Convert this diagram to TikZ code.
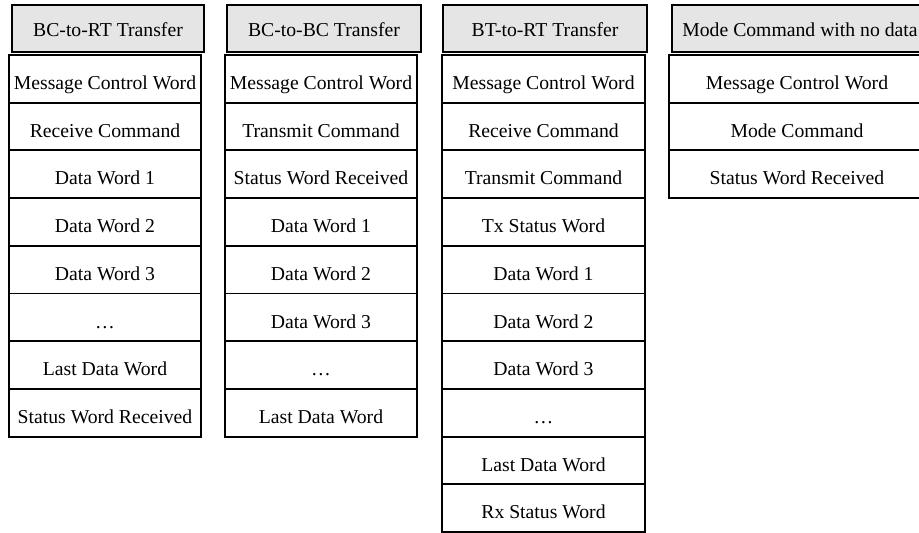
\documentclass[tikz,border=0pt]{standalone}
\usepackage{fontspec}
\setmainfont{Liberation Serif}
\begin{document}
\begin{tikzpicture}[x=1pt,y=-1pt,
  cell/.style={draw=black, line width=1.9pt, fill=white, minimum height=47.7pt, inner sep=0pt, text height=22pt, text depth=0.6pt, font=\fontsize{19.7}{22}\selectfont},
  head/.style={draw=black, line width=1.9pt, fill=gray!20, minimum height=47pt, inner sep=0pt, text height=16.4pt, text depth=0pt, font=\fontsize{19.7}{22}\selectfont}]
\useasboundingbox (0,0) rectangle (919,533);
\clip (0,0) rectangle (919,533);
% column 1
\node[head, minimum width=192pt] (h1) at (108,28.5) {BC-to-RT Transfer};
\foreach \t [count=\i] in {Message Control Word, Receive Command, Data Word 1, Data Word 2, Data Word 3, …, Last Data Word, Status Word Received}
  \node[cell, minimum width=192pt] (a\i) at (105,{78.85+47.7*(\i-1)}) {\t};
% column 2
\node[head, minimum width=194pt] (h2) at (324,28.5) {BC-to-BC Transfer};
\foreach \t [count=\i] in {Message Control Word, Transmit Command, Status Word Received, Data Word 1, Data Word 2, Data Word 3, …, Last Data Word}
  \node[cell, minimum width=192pt] (b\i) at (321,{78.85+47.7*(\i-1)}) {\t};
% column 3
\node[head, minimum width=204pt] (h3) at (545,28.5) {BT-to-RT Transfer};
\foreach \t [count=\i] in {Message Control Word, Receive Command, Transmit Command, Tx Status Word, Data Word 1, Data Word 2, Data Word 3, …, Last Data Word, Rx Status Word}
  \node[cell, minimum width=203pt] (c\i) at (543.5,{78.85+47.7*(\i-1)}) {\t};
% column 4
\node[head, minimum width=256pt] (h4) at (800,28.5) {Mode Command with no data};
\foreach \t [count=\i] in {Message Control Word, Mode Command, Status Word Received}
  \node[cell, minimum width=256pt] (d\i) at (797,{78.85+47.7*(\i-1)}) {\t};
\end{tikzpicture}
\end{document}
